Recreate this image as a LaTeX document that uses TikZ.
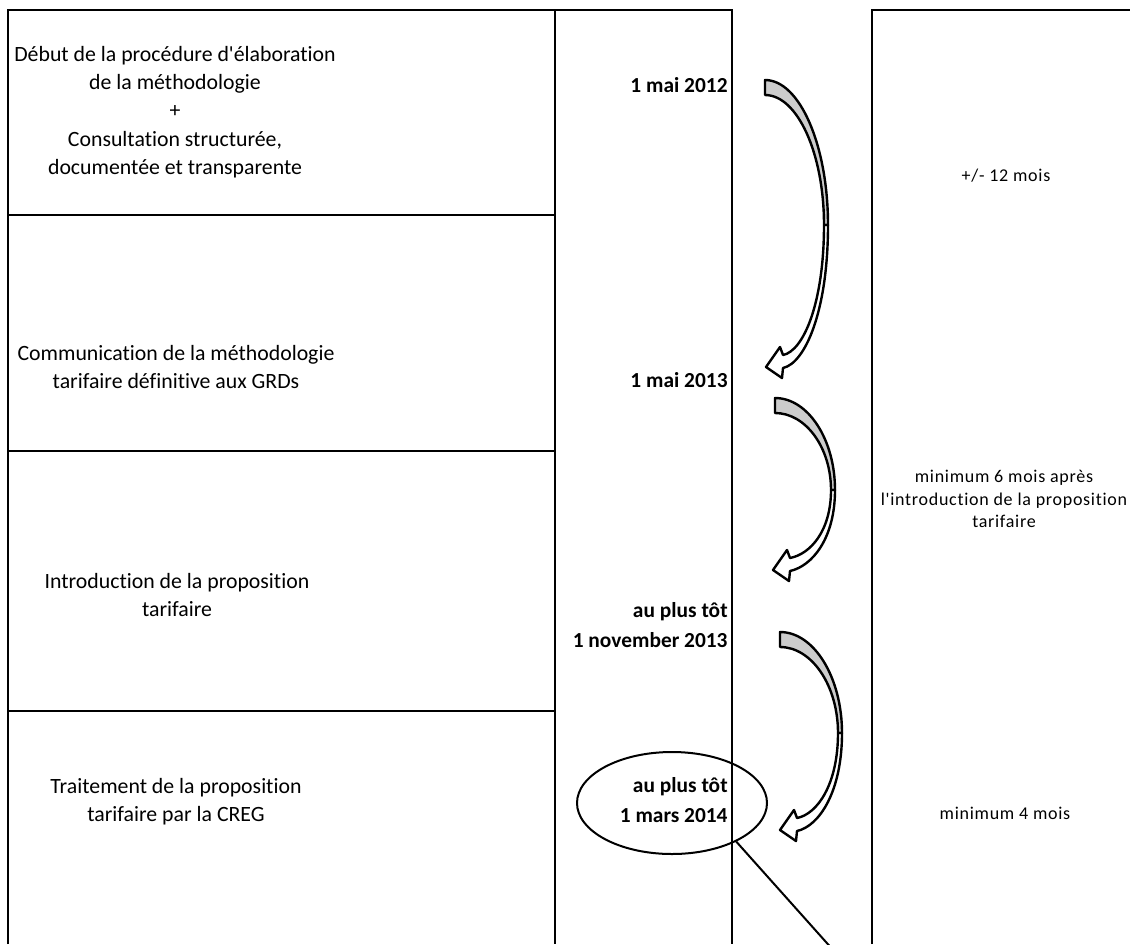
\documentclass[tikz,border=0pt]{standalone}
\usepackage{fontspec}
\setmainfont{Carlito}[Ligatures=NoCommon]
\newfontfamily\notefont[LetterSpace=4,Ligatures=NoCommon]{Carlito}
\usetikzlibrary{shapes.geometric}
\definecolor{arrowgrey}{RGB}{204,204,204}
% curved block arrow: tail (x0,y0), bulge (xb,yb), tip (xt,yt)
\newcommand{\timearrow}[6]{%
\filldraw[arrow line,fill=arrowgrey] (#1,#2) .. controls ({#1+0.55*(#3-#1)},#2) and (#3,{#2+0.45*(#4-#2)}) .. (#3,#4)
  -- ({#3-4},#4) .. controls ({#3-4},{#2+15+0.45*(#4-#2-15)}) and ({#1+0.55*(#3-4-#1)},{#2+15}) .. (#1,{#2+15}) -- cycle;
\filldraw[arrow line,fill=white] (#3,#4) .. controls (#3,{#4+0.6*(#6-#4)}) and ({#5+17+0.5*(#3-#5-17)},{#6-4}) .. ({#5+17},{#6+1})
  -- ({#5+16},{#6+11}) -- (#5,#6) -- ({#5+14},{#6-20}) -- ({#5+17},{#6-12})
  .. controls ({#5+17+0.5*(#3-4-#5-17)},{#6-16}) and ({#3-4},{#4+0.6*(#6-12-#4)}) .. ({#3-4},#4) -- cycle;
}
\begin{document}
\begin{tikzpicture}[x=0.5pt,y=-0.5pt,
  cadre/.style={line width=1pt},
  arrow line/.style={line width=1.2pt,line join=round},
  stage/.style={align=center,inner sep=0pt,font=\fontsize{10.9}{14.1}\selectfont},
  datum/.style={anchor=east,align=right,inner sep=0pt,font=\bfseries\fontsize{10.7}{15}\selectfont},
  duree/.style={align=center,inner sep=0pt,font=\notefont\fontsize{9}{11.25}\selectfont},
  oval/.style={draw,ellipse,line width=1pt,minimum width=95pt,minimum height=51pt}]
\useasboundingbox (0,0) rectangle (1130,944);
\clip (0,0) rectangle (1130,944);
% table
\draw[cadre] (8,944) -- (8,10) -- (732,10) -- (732,944);
\draw[cadre] (555,10) -- (555,944);
\foreach \y in {215,451,711} \draw[cadre] (8,\y) -- (555,\y);
\draw[cadre] (872,944) -- (872,10) -- (1130,10);
% stages
\node[stage] (s1) at (175,112) {D\'ebut de la proc\'edure d\textquotesingle\'elaboration\\de la m\'ethodologie\\+\\Consultation structur\'ee,\\document\'ee et transparente};
\node[stage] (s2) at (176,367) {Communication de la m\'ethodologie\\tarifaire d\'efinitive aux GRDs};
\node[stage] (s3) at (177,595) {Introduction de la proposition\\tarifaire};
\node[stage] (s4) at (176,802) {Traitement de la proposition\\tarifaire par la CREG};
% dates
\node[datum] (d1) at (728,85) {1 mai 2012};
\node[datum] (d2) at (728,380) {1 mai 2013};
\node[datum] (d3) at (728,625) {au plus t\^ot\\1 november 2013};
\node[datum] (d4) at (728,800) {au plus t\^ot\\1 mars 2014};
% durations
\node[duree] (p1) at (1006,176) {+/- 12 mois};
\node[duree] (p2) at (1004,499) {minimum 6 mois apr\`es\\l'introduction de la proposition\\tarifaire};
\node[duree] (p3) at (1005,813) {minimum 4 mois};
% arrows
\timearrow{765}{80}{828}{225}{766}{367}
\timearrow{775}{398}{835}{490}{773}{570}
\timearrow{780}{632}{842}{733}{780}{830}
% callout
\node[oval] (ovale) at (672,803) {};
\coordinate (pointe) at (834,951);
\draw[line width=1pt] (ovale.-31) -- (pointe);
\end{tikzpicture}
\end{document}
